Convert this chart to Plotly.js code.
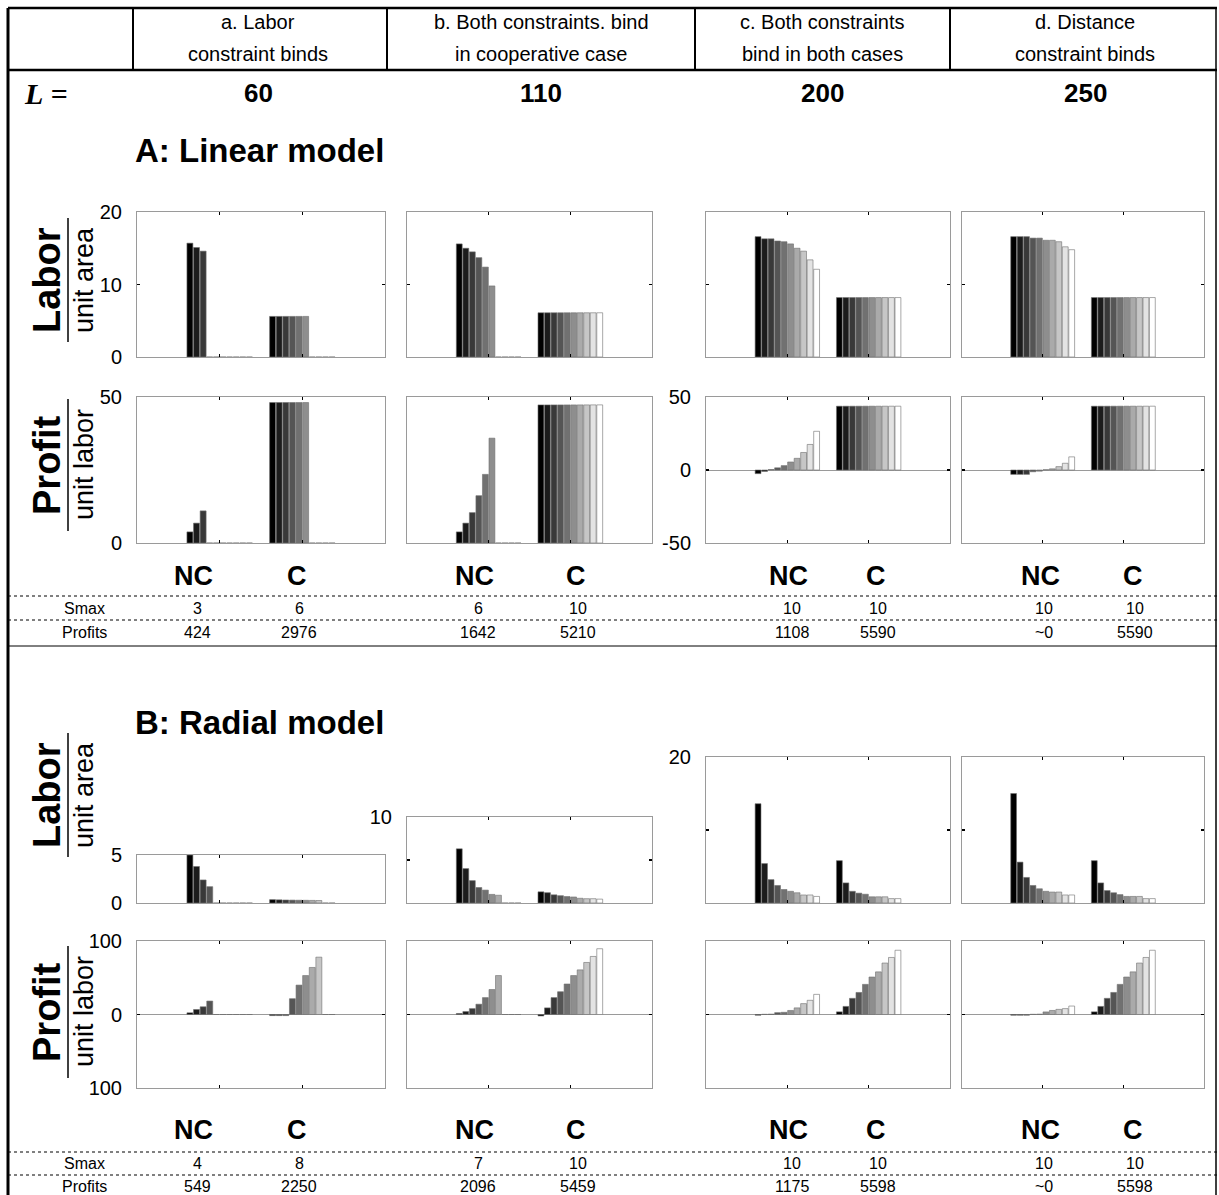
<!DOCTYPE html>
<html><head><meta charset="utf-8">
<script src="https://cdn.plot.ly/plotly-3.0.1.min.js"></script>
<style>html,body{margin:0;padding:0;background:#fff;}</style>
</head><body><div id="chart" style="width:1219px;height:1195px;"></div>
<script>
// ---------- DATA ----------
const groupX = [1, 2];                 // 1 = NC (non-cooperative), 2 = C (cooperative)
const groupLabels = ['NC', 'C'];
const seriesCount = 10;                // number of vendors / series (gray ramp)
const columnTitleTop = ['a. Labor', 'b. Both constraints. bind', 'c. Both constraints', 'd. Distance'];
const columnTitleBottom = ['constraint binds', 'in cooperative case', 'bind in both cases', 'constraint binds'];
const LValues = ['60', '110', '200', '250'];

// A: Linear model — labor per unit area
const linLabor_a_NC = [15.7, 15.1, 14.6, 0, 0, 0, 0, 0, 0, 0];
const linLabor_a_C  = [5.6, 5.6, 5.6, 5.6, 5.6, 5.6, 0, 0, 0, 0];
const linLabor_b_NC = [15.6, 15.0, 14.5, 13.7, 12.4, 9.8, 0, 0, 0, 0];
const linLabor_b_C  = [6.1, 6.1, 6.1, 6.1, 6.1, 6.1, 6.1, 6.1, 6.1, 6.1];
const linLabor_c_NC = [16.6, 16.3, 16.3, 16.0, 15.9, 15.6, 15.0, 14.6, 13.4, 12.1];
const linLabor_c_C  = [8.2, 8.2, 8.2, 8.2, 8.2, 8.2, 8.2, 8.2, 8.2, 8.2];
const linLabor_d_NC = [16.6, 16.6, 16.6, 16.4, 16.4, 16.1, 16.1, 15.9, 15.2, 14.8];
const linLabor_d_C  = [8.2, 8.2, 8.2, 8.2, 8.2, 8.2, 8.2, 8.2, 8.2, 8.2];
// A: Linear model — profit per unit labor
const linProfit_a_NC = [3.8, 6.8, 11.0, 0, 0, 0, 0, 0, 0, 0];
const linProfit_a_C  = [48.1, 48.1, 48.1, 48.1, 48.1, 48.1, 0, 0, 0, 0];
const linProfit_b_NC = [3.8, 6.8, 10.4, 16.2, 23.5, 35.9, 0, 0, 0, 0];
const linProfit_b_C  = [47.3, 47.3, 47.3, 47.3, 47.3, 47.3, 47.3, 47.3, 47.3, 47.3];
const linProfit_c_NC = [-2.5, -1.0, 0.3, 1.5, 3.0, 5.5, 8.0, 12.0, 17.5, 26.5];
const linProfit_c_C  = [43.7, 43.7, 43.7, 43.7, 43.7, 43.7, 43.7, 43.7, 43.7, 43.7];
const linProfit_d_NC = [-3.0, -3.0, -3.0, -1.2, -0.8, 0.2, 0.8, 2.3, 4.6, 9.0];
const linProfit_d_C  = [43.7, 43.7, 43.7, 43.7, 43.7, 43.7, 43.7, 43.7, 43.7, 43.7];
// B: Radial model — labor per unit area
const radLabor_a_NC = [5.0, 3.8, 2.4, 1.7, 0, 0, 0, 0, 0, 0];
const radLabor_a_C  = [0.35, 0.33, 0.31, 0.3, 0.29, 0.28, 0.27, 0.26, 0, 0];
const radLabor_b_NC = [6.3, 4.0, 2.6, 1.8, 1.5, 1.0, 0.9, 0, 0, 0];
const radLabor_b_C  = [1.3, 1.2, 0.95, 0.85, 0.75, 0.7, 0.55, 0.5, 0.5, 0.45];
const radLabor_c_NC = [13.6, 5.4, 3.2, 2.4, 1.85, 1.6, 1.4, 1.1, 1.1, 0.9];
const radLabor_c_C  = [5.8, 2.75, 1.6, 1.35, 1.2, 0.85, 0.85, 0.85, 0.6, 0.6];
const radLabor_d_NC = [15.0, 5.6, 3.5, 2.4, 1.95, 1.6, 1.5, 1.5, 1.1, 1.1];
const radLabor_d_C  = [5.8, 2.75, 1.7, 1.4, 1.15, 0.9, 0.9, 0.9, 0.6, 0.6];
// B: Radial model — profit per unit labor
const radProfit_a_NC = [2.3, 6.8, 10.5, 18.3, 0, 0, 0, 0, 0, 0];
const radProfit_a_C  = [-1.5, -1.5, -1.5, 21.5, 40, 53, 64, 78, 0, 0];
const radProfit_b_NC = [1.4, 4, 8, 14, 23, 34, 53, 0, 0, 0];
const radProfit_b_C  = [-2, 9, 23, 31, 41.5, 53, 60.7, 70.8, 79, 89.5];
const radProfit_c_NC = [-1, 0.3, 0.5, 2.5, 3, 5.5, 9, 14.8, 19.3, 27.4];
const radProfit_c_C  = [3.6, 11, 22, 30, 41, 51, 58, 70, 77.6, 87.4];
const radProfit_d_NC = [-1, -1, -1, 0.3, 0.5, 3.5, 5.5, 7, 8, 11.5];
const radProfit_d_C  = [3.6, 11, 22, 30, 41, 51, 58, 70, 77.6, 87.4];

// table rows
const linSmax    = ['3', '6', '6', '10', '10', '10', '10', '10'];
const linProfits = ['424', '2976', '1642', '5210', '1108', '5590', '~0', '5590'];
const radSmax    = ['4', '8', '7', '10', '10', '10', '10', '10'];
const radProfits = ['549', '2250', '2096', '5459', '1175', '5598', '~0', '5598'];

// ---------- LAYOUT HELPERS ----------
const W = 1219, H = 1195;
const px = v => v / W;
const py = v => 1 - v / H;
const FONT = 'Liberation Sans, Arial, sans-serif';

const colX = [[137, 385], [407, 652], [706, 950], [962, 1204]];
const labelX = [[193, 297], [474, 576], [788, 876], [1040, 1133]];

const panels = [
  // A labor
  {nc: linLabor_a_NC, c: linLabor_a_C, col: 0, y: [212, 357], range: [0, 20], tv: [0, 10, 20], tt: ['0', '10', '20']},
  {nc: linLabor_b_NC, c: linLabor_b_C, col: 1, y: [212, 357], range: [0, 20], tv: [0, 10, 20]},
  {nc: linLabor_c_NC, c: linLabor_c_C, col: 2, y: [212, 357], range: [0, 20], tv: [0, 10, 20]},
  {nc: linLabor_d_NC, c: linLabor_d_C, col: 3, y: [212, 357], range: [0, 20], tv: [0, 10, 20]},
  // A profit
  {nc: linProfit_a_NC, c: linProfit_a_C, col: 0, y: [397, 543], range: [0, 50], tv: [0, 50], tt: ['0', '50']},
  {nc: linProfit_b_NC, c: linProfit_b_C, col: 1, y: [397, 543], range: [0, 50], tv: [0, 50]},
  {nc: linProfit_c_NC, c: linProfit_c_C, col: 2, y: [397, 543], range: [-50, 50], tv: [-50, 0, 50], tt: ['-50', '0', '50']},
  {nc: linProfit_d_NC, c: linProfit_d_C, col: 3, y: [397, 543], range: [-50, 50], tv: [-50, 0, 50]},
  // B labor
  {nc: radLabor_a_NC, c: radLabor_a_C, col: 0, y: [855, 903], range: [0, 5], tv: [0, 5], tt: ['0', '5']},
  {nc: radLabor_b_NC, c: radLabor_b_C, col: 1, y: [817, 903], range: [0, 10], tv: [0, 5, 10], tt: ['', '', '10']},
  {nc: radLabor_c_NC, c: radLabor_c_C, col: 2, y: [757, 903], range: [0, 20], tv: [0, 10, 20], tt: ['', '', '20']},
  {nc: radLabor_d_NC, c: radLabor_d_C, col: 3, y: [757, 903], range: [0, 20], tv: [0, 10, 20]},
  // B profit
  {nc: radProfit_a_NC, c: radProfit_a_C, col: 0, y: [941, 1088], range: [-100, 100], tv: [-100, 0, 100], tt: ['100', '0', '100']},
  {nc: radProfit_b_NC, c: radProfit_b_C, col: 1, y: [941, 1088], range: [-100, 100], tv: [-100, 0, 100]},
  {nc: radProfit_c_NC, c: radProfit_c_C, col: 2, y: [941, 1088], range: [-100, 100], tv: [-100, 0, 100]},
  {nc: radProfit_d_NC, c: radProfit_d_C, col: 3, y: [941, 1088], range: [-100, 100], tv: [-100, 0, 100]},
];

function gray(i) { const g = Math.round(255 * i / (seriesCount - 1)); return `rgb(${g},${g},${g})`; }

const data = [];
const layout = {
  width: W, height: H, margin: {l: 0, r: 0, t: 0, b: 0},
  paper_bgcolor: '#fff', plot_bgcolor: '#fff',
  font: {family: FONT, color: '#000'},
  showlegend: false, barmode: 'group', bargap: 0.2, bargroupgap: 0.1,
  annotations: [], shapes: []
};

panels.forEach((p, k) => {
  const n = k + 1;
  const xa = 'x' + (n === 1 ? '' : n), ya = 'y' + (n === 1 ? '' : n);
  for (let i = 0; i < seriesCount; i++) {
    data.push({
      type: 'bar', x: groupX, y: [p.nc[i], p.c[i]], xaxis: xa, yaxis: ya,
      marker: {color: gray(i), line: {color: 'rgb(110,110,110)', width: 0.6}},
      hoverinfo: 'skip', showlegend: false
    });
  }
  const common = {
    showline: true, linecolor: '#9a9a9a', linewidth: 1, mirror: 'ticks',
    ticks: 'inside', ticklen: 3, tickwidth: 1.5, tickcolor: '#000',
    showgrid: false, fixedrange: true
  };
  layout['xaxis' + (n === 1 ? '' : n)] = Object.assign({}, common, {
    domain: [px(colX[p.col][0]), px(colX[p.col][1])], range: [0, 3],
    anchor: ya, tickvals: groupX, showticklabels: false, zeroline: false
  });
  layout['yaxis' + (n === 1 ? '' : n)] = Object.assign({}, common, {
    domain: [py(p.y[1]), py(p.y[0])], range: p.range, anchor: xa,
    tickvals: p.tv, ticktext: p.tt || p.tv.map(String), showticklabels: !!p.tt,
    tickfont: {size: 20, color: '#000', family: FONT}, ticklabelstandoff: 10,
    zeroline: true, zerolinecolor: '#9a9a9a', zerolinewidth: 1
  });
});

const ann = layout.annotations, shp = layout.shapes;
function text(x, y, t, size, opts) {
  ann.push(Object.assign({xref: 'paper', yref: 'paper', x: px(x), y: py(y), text: t, showarrow: false,
    xanchor: 'center', yanchor: 'middle', font: {size: size, family: FONT, color: '#000'}}, opts || {}));
}
function line(x0, y0, x1, y1, w, dash) {
  shp.push({type: 'line', xref: 'paper', yref: 'paper', x0: px(x0), y0: py(y0), x1: px(x1), y1: py(y1),
    line: {color: '#000', width: w, dash: dash || 'solid'}});
}

// header table
const headCenters = [258, 541, 822, 1085];
columnTitleTop.forEach((t, i) => text(headCenters[i], 22, t, 20));
columnTitleBottom.forEach((t, i) => text(headCenters[i], 54, t, 20));
LValues.forEach((t, i) => text(headCenters[i], 93, '<b>' + t + '</b>', 26));
text(46, 93, '<b><i>L</i> =</b>', 30, {font: {size: 30, family: 'Liberation Serif, Times New Roman, serif', color: '#000'}});

line(8, 8, 1217, 8, 2.5);
line(8, 70, 1217, 70, 2.5);
[133, 387, 695, 950].forEach(x => line(x, 8, x, 70, 2));
line(8, 8, 8, 1195, 3);
line(1216, 8, 1216, 1195, 1.5);

// section titles
text(133, 150, '<b>A: Linear model</b>', 33, {xanchor: 'left'});
text(133, 723, '<b>B: Radial model</b>', 33, {xanchor: 'left'});

// NC / C labels
[576, 1130].forEach(yy => {
  labelX.forEach(pair => {
    text(pair[0], yy, '<b>' + groupLabels[0] + '</b>', 27);
    text(pair[1], yy, '<b>' + groupLabels[1] + '</b>', 27);
  });
});

// fraction y-axis labels
function fracLabel(cy, big, small, half) {
  text(47, cy, '<b>' + big + '</b>', 38, {textangle: -90});
  text(84, cy, small, 27, {textangle: -90});
  line(68, cy - half, 68, cy + half, 1.5);
}
fracLabel(280, 'Labor', 'unit area', 62);
fracLabel(465, 'Profit', 'unit labor', 66);
fracLabel(795, 'Labor', 'unit area', 62);
fracLabel(1012, 'Profit', 'unit labor', 66);

// value tables
function table(yTop, gap, smax, profits) {
  line(8, yTop, 1217, yTop, 1, 'dot');
  line(8, yTop + gap, 1217, yTop + gap, 1, 'dot');
  const r1 = yTop + gap / 2, r2 = yTop + gap * 1.5;
  text(84, r1, 'Smax', 16);
  text(84, r2, 'Profits', 16);
  labelX.forEach((pair, i) => {
    text(pair[0] + 4, r1, smax[2 * i], 16);
    text(pair[1] + 2, r1, smax[2 * i + 1], 16);
    text(pair[0] + 4, r2, profits[2 * i], 16);
    text(pair[1] + 2, r2, profits[2 * i + 1], 16);
  });
}
table(596, 24, linSmax, linProfits);
line(8, 646, 1217, 646, 1);
table(1152, 23, radSmax, radProfits);

Plotly.newPlot('chart', data, layout, {staticPlot: true, displayModeBar: false});
</script>
</body></html>
